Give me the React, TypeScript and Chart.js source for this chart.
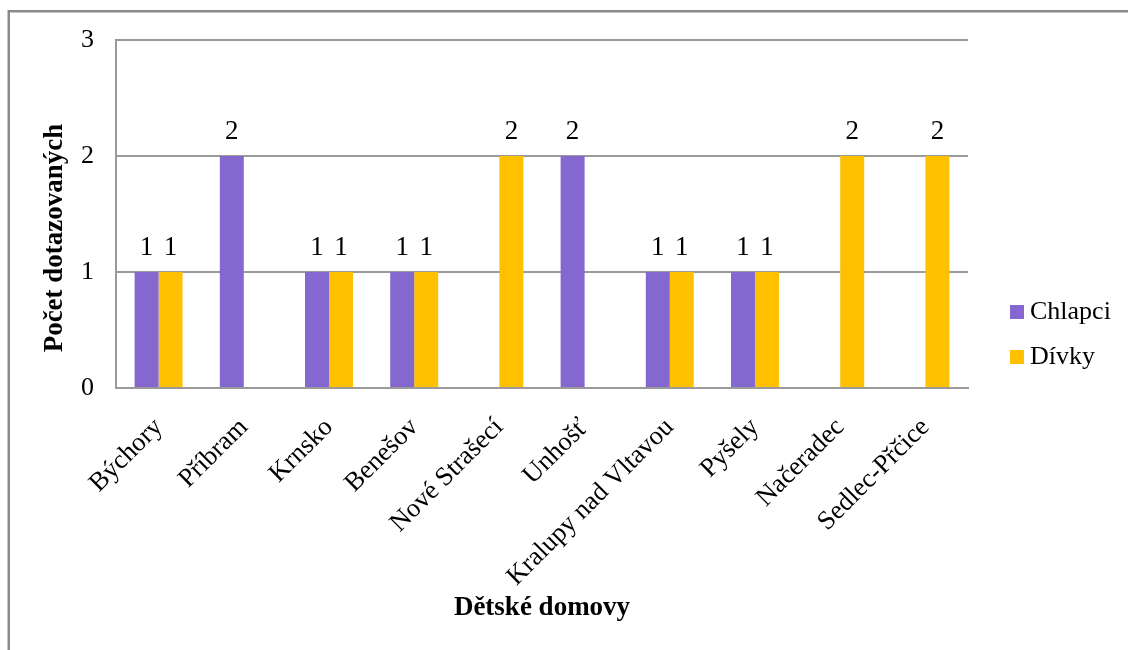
import { useEffect, useRef } from "react";
import { Chart, registerables } from "chart.js";

Chart.register(...registerables);

// Children's homes (x categories)
const homes = [
  "Býchory",
  "Příbram",
  "Krnsko",
  "Benešov",
  "Nové Strašecí",
  "Unhošť",
  "Kralupy nad Vltavou",
  "Pyšely",
  "Načeradec",
  "Sedlec-Přčice",
];

// Respondents per home
const boys: (number | null)[] = [1, 2, 1, 1, null, 2, 1, 1, null, null];
const girls: (number | null)[] = [1, null, 1, 1, 2, null, 1, 1, 2, 2];

const seriesNames = ["Chlapci", "Dívky"];
const seriesColors = ["#8468D0", "#FFC000"];
const yTicks = [0, 1, 2, 3];

const yTitle = "Počet dotazovaných";
const xTitle = "Dětské domovy";

const SERIF = '"Liberation Serif", "Times New Roman", serif';
const GRID = "#9a9a9a";

// White background and the grey frame of the chart box
const framePlugin = {
  id: "frame",
  beforeDraw(chart: Chart) {
    const { ctx, width, height } = chart;
    ctx.save();
    ctx.fillStyle = "#ffffff";
    ctx.fillRect(0, 0, width, height);
    ctx.strokeStyle = "#8a8a8a";
    ctx.lineWidth = 2.5;
    ctx.beginPath();
    ctx.moveTo(8.75, height);
    ctx.lineTo(8.75, 11.25);
    ctx.lineTo(width, 11.25);
    ctx.stroke();
    ctx.restore();
  },
};

// Value printed above each bar
const valueLabelsPlugin = {
  id: "valueLabels",
  afterDatasetsDraw(chart: Chart) {
    const { ctx } = chart;
    ctx.save();
    ctx.font = `27px ${SERIF}`;
    ctx.fillStyle = "#000000";
    ctx.textAlign = "center";
    ctx.textBaseline = "alphabetic";
    chart.data.datasets.forEach((ds, di) => {
      const meta = chart.getDatasetMeta(di);
      meta.data.forEach((bar: any, i: number) => {
        const v = ds.data[i] as number | null;
        if (v === null || v === undefined) return;
        ctx.fillText(String(v), bar.x, bar.y - 17);
      });
    });
    ctx.restore();
  },
};

// Rotated y-axis title
const yTitlePlugin = {
  id: "yTitle",
  afterDraw(chart: Chart) {
    const { ctx, chartArea } = chart;
    ctx.save();
    ctx.font = `bold 27px ${SERIF}`;
    ctx.fillStyle = "#000000";
    ctx.textAlign = "center";
    ctx.textBaseline = "middle";
    ctx.translate(55, (chartArea.top + chartArea.bottom) / 2 + 24);
    ctx.rotate(-Math.PI / 2);
    ctx.fillText(yTitle, 0, 0);
    ctx.restore();
  },
};

// Legend on the right side
const legendPlugin = {
  id: "sideLegend",
  afterDraw(chart: Chart) {
    const { ctx, chartArea } = chart;
    ctx.save();
    ctx.font = `26px ${SERIF}`;
    ctx.textAlign = "left";
    ctx.textBaseline = "middle";
    const x = chartArea.right + 42;
    const y0 = 312;
    chart.data.datasets.forEach((ds, i) => {
      const y = y0 + i * 45;
      ctx.fillStyle = ds.backgroundColor as string;
      ctx.fillRect(x, y - 7, 14, 14);
      ctx.fillStyle = "#000000";
      ctx.fillText(String(ds.label), x + 20, y);
    });
    ctx.restore();
  },
};

export default function App() {
  const canvasRef = useRef<HTMLCanvasElement>(null);

  useEffect(() => {
    if (!canvasRef.current) return;
    const chart = new Chart(canvasRef.current, {
      type: "bar",
      data: {
        labels: homes,
        datasets: [
          {
            label: seriesNames[0],
            data: boys,
            backgroundColor: seriesColors[0],
            categoryPercentage: 0.563,
            barPercentage: 1,
          },
          {
            label: seriesNames[1],
            data: girls,
            backgroundColor: seriesColors[1],
            categoryPercentage: 0.563,
            barPercentage: 1,
          },
        ],
      },
      options: {
        responsive: false,
        animation: false,
        layout: { padding: { top: 40, right: 160, bottom: 26, left: 0 } },
        plugins: {
          legend: { display: false },
          title: { display: false },
          tooltip: { enabled: false },
        },
        scales: {
          x: {
            grid: { display: false, drawTicks: false },
            border: { display: true, color: GRID, width: 2 },
            ticks: {
              autoSkip: false,
              maxRotation: 45,
              minRotation: 45,
              padding: 24,
              color: "#000000",
              font: { family: SERIF, size: 26.5 },
            },
            title: {
              display: true,
              text: xTitle,
              color: "#000000",
              font: { family: SERIF, size: 27, weight: "bold" },
              padding: 0,
            },
            afterFit(scale: any) {
              scale.height = 236;
            },
          },
          y: {
            min: 0,
            max: 3,
            grid: { color: GRID, lineWidth: 2, drawTicks: false },
            border: { display: true, color: GRID, width: 2 },
            ticks: {
              padding: 22,
              color: "#000000",
              font: { family: SERIF, size: 26 },
            },
            afterBuildTicks(scale: any) {
              scale.ticks = yTicks.map((v) => ({ value: v }));
            },
            afterFit(scale: any) {
              scale.width = 116;
            },
          },
        },
      },
      plugins: [framePlugin, valueLabelsPlugin, yTitlePlugin, legendPlugin],
    });
    return () => chart.destroy();
  }, []);

  return (
    <div style={{ position: "absolute", left: 0, top: 0, width: 1128, height: 650 }}>
      <canvas ref={canvasRef} width={1128} height={650} />
    </div>
  );
}
